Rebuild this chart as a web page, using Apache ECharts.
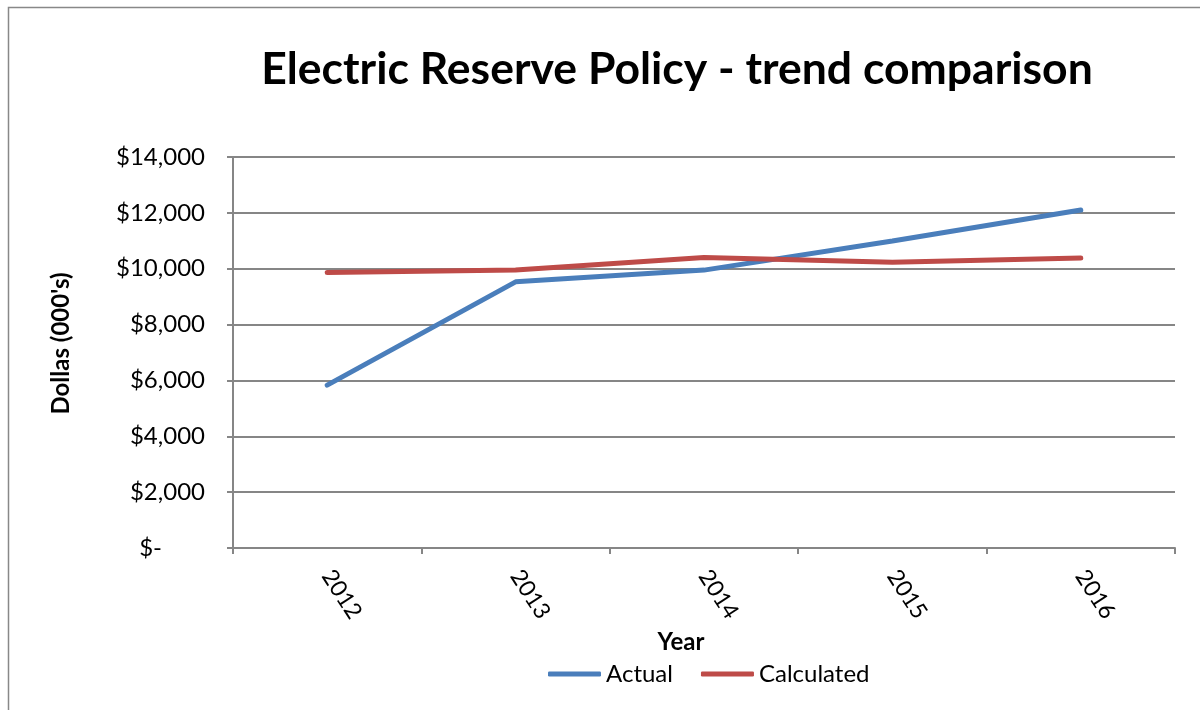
<!DOCTYPE html>
<html><head><meta charset="utf-8">
<script src="https://cdn.jsdelivr.net/npm/echarts@6/dist/echarts.min.js"></script>
<style>html,body{margin:0;padding:0;background:#fff}#c{width:1200px;height:710px}</style>
</head><body><div id="c"></div>
<script>
const years = ['2012','2013','2014','2015','2016'];
const actual = [5830, 9530, 9950, 10990, 12100];
const calculated = [9860, 9950, 10400, 10230, 10380];
const yTicks = [0, 2000, 4000, 6000, 8000, 10000, 12000, 14000];

const chart = echarts.init(document.getElementById('c'));
const F = 'Lato, "Open Sans", sans-serif';
chart.setOption({
  animation: false,
  backgroundColor: '#fff',
  graphic: [{type:'rect', shape:{x:8.5,y:7.5,width:1300,height:800}, style:{fill:'none', stroke:'#888', lineWidth:1.5}, z:-1}],
  title: {text:'Electric Reserve Policy - trend comparison', left:672, top:42, textAlign:'center',
    textStyle:{fontFamily:F, fontWeight:'bold', fontSize:44.5, color:'#000'}},
  grid: {left:233, right:25, top:157, bottom:162, containLabel:false},
  legend: {data:['Actual','Calculated'], left:543, top:657, icon:'roundRect', itemWidth:53, itemHeight:5, itemGap:28,
    textStyle:{fontFamily:F, fontSize:24, color:'#000'}},
  xAxis: {type:'category', data:years, boundaryGap:true,
    name:'Year', nameLocation:'middle', nameGap:80, nameTextStyle:{fontFamily:F, fontWeight:'bold', fontSize:24, color:'#000', padding:[0,46,0,0]},
    axisLine:{lineStyle:{color:'#868686', width:2}},
    axisTick:{show:true, length:6, lineStyle:{color:'#868686', width:2}, alignWithLabel:false},
    axisLabel:{rotate:-57, margin:24, fontFamily:F, fontSize:23, color:'#000'}},
  yAxis: {type:'value', min:0, max:14000, interval:2000,
    name:"Dollas (000's)", nameLocation:'middle', nameGap:160, nameRotate:90,
    nameTextStyle:{fontFamily:F, fontWeight:'bold', fontSize:24, color:'#000', padding:[0,0,0,18]},
    axisLine:{show:true, lineStyle:{color:'#868686', width:2}},
    axisTick:{show:true, length:6, lineStyle:{color:'#868686', width:2}},
    splitLine:{lineStyle:{color:'#868686', width:2}},
    axisLabel:{margin:28, fontFamily:F, fontSize:24, color:'#000',
      formatter: v => v === 0 ? '$-       ' : '$' + v.toLocaleString('en-US')}},
  series: [
    {name:'Actual', type:'line', data:actual, showSymbol:false, symbol:'none', lineStyle:{width:5, color:'#4a7ebb', cap:'round'}, itemStyle:{color:'#4a7ebb'}},
    {name:'Calculated', type:'line', data:calculated, showSymbol:false, symbol:'none', lineStyle:{width:5, color:'#be4b48', cap:'round'}, itemStyle:{color:'#be4b48'}}
  ]
});
</script></body></html>
